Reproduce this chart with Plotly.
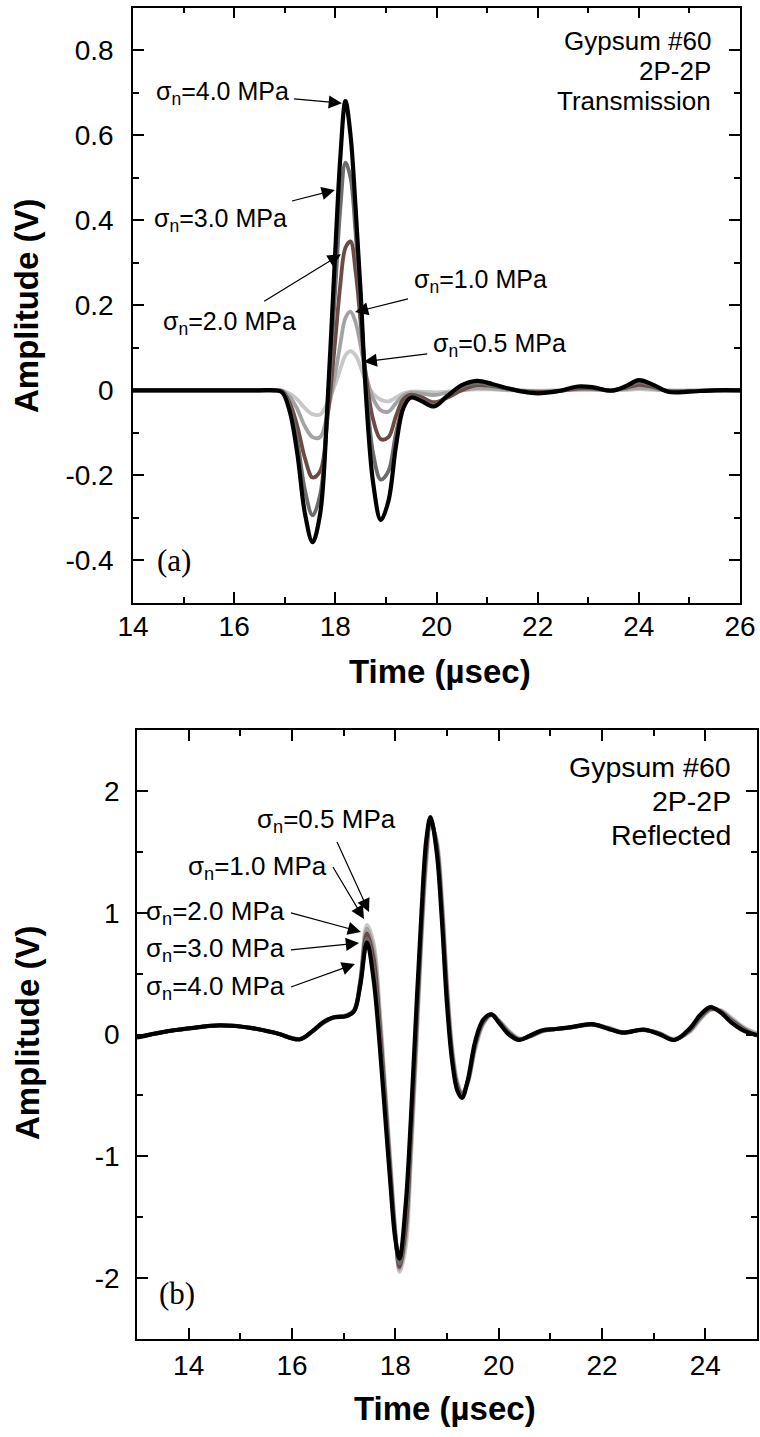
import plotly.graph_objects as go

# ---------------- data: (a) Transmission ----------------
T_TOP = [14.0, 14.5, 15.0, 15.5, 16.0, 16.5, 16.8, 16.95, 17.1, 17.25, 17.4, 17.55, 17.7, 17.85,
         18.0, 18.1, 18.2, 18.3, 18.4, 18.5, 18.6, 18.75, 18.9, 19.05, 19.2, 19.35, 19.5, 19.7,
         19.95, 20.2, 20.5, 20.8, 21.1, 21.4, 21.7, 22.0, 22.4, 22.8, 23.1, 23.45, 23.75, 24.0,
         24.3, 24.6, 25.0, 25.5, 26.0]

TOP_40 = [0, 0, 0, 0, 0, 0, 0, -0.005, -0.05, -0.15, -0.29, -0.357, -0.29, -0.02, 0.33, 0.55, 0.68,
          0.6, 0.43, 0.23, 0.0, -0.22, -0.305, -0.26, -0.13, -0.04, -0.017, -0.025, -0.038, -0.015,
          0.012, 0.022, 0.015, 0.005, -0.003, -0.007, -0.002, 0.009, 0.007, -0.001, 0.01, 0.024,
          0.012, -0.004, -0.003, 0, 0]
TOP_30 = [0, 0, 0, 0, 0, 0, 0, -0.003, -0.04, -0.12, -0.235, -0.294, -0.245, -0.04, 0.24, 0.43, 0.535,
          0.5, 0.37, 0.2, 0.02, -0.15, -0.21, -0.19, -0.1, -0.035, -0.015, -0.022, -0.034, -0.014,
          0.009, 0.017, 0.012, 0.004, -0.002, -0.006, -0.002, 0.007, 0.006, 0.0, 0.008, 0.019,
          0.01, -0.003, -0.002, 0, 0]
TOP_20 = [0, 0, 0, 0, 0, 0, 0, -0.002, -0.03, -0.085, -0.16, -0.205, -0.19, -0.06, 0.12, 0.25, 0.335,
          0.35, 0.28, 0.16, 0.04, -0.07, -0.115, -0.11, -0.06, -0.02, -0.01, -0.016, -0.028, -0.018,
          0.0, 0.012, 0.01, 0.004, -0.002, -0.004, -0.002, 0.004, 0.004, 0.0, 0.006, 0.013,
          0.007, -0.002, -0.002, 0, 0]
TOP_10 = [0, 0, 0, 0, 0, 0, 0, -0.001, -0.015, -0.045, -0.085, -0.11, -0.11, -0.05, 0.04, 0.11, 0.17,
          0.185, 0.16, 0.105, 0.04, -0.02, -0.047, -0.05, -0.03, -0.012, -0.005, -0.007, -0.011, -0.006,
          0.0, 0.005, 0.004, 0.001, -0.001, -0.002, -0.001, 0.002, 0.002, 0.0, 0.003, 0.006,
          0.003, -0.001, -0.001, 0, 0]
TOP_05 = [0, 0, 0, 0, 0, 0, 0, -0.001, -0.008, -0.022, -0.042, -0.056, -0.057, -0.028, 0.015, 0.05, 0.082,
          0.092, 0.082, 0.055, 0.022, -0.008, -0.022, -0.026, -0.017, -0.007, -0.003, -0.003, -0.005, -0.003,
          0.0, 0.002, 0.002, 0.0, 0.0, -0.001, 0.0, 0.001, 0.001, 0.0, 0.001, 0.003,
          0.001, 0.0, 0.0, 0, 0]

# ---------------- data: (b) Reflected ----------------
T_BOT = [13.0, 13.5, 14.0, 14.6, 15.2, 15.7, 16.15, 16.4, 16.6, 16.8, 17.05, 17.2, 17.32, 17.45,
         17.58, 17.7, 17.8, 17.9, 18.0, 18.08, 18.2, 18.3, 18.4, 18.5, 18.6, 18.68, 18.8, 18.9,
         19.0, 19.1, 19.2, 19.29, 19.4, 19.55, 19.7, 19.86, 20.0, 20.2, 20.4, 20.6, 20.85, 21.1,
         21.4, 21.8, 22.1, 22.4, 22.8, 23.1, 23.4, 23.7, 23.9, 24.1, 24.3, 24.5, 24.75, 25.0]

BOT_40 = [-0.025, 0.02, 0.05, 0.075, 0.055, 0.01, -0.04, 0.03, 0.1, 0.14, 0.15, 0.19, 0.4, 0.757,
          0.45, -0.1, -0.65, -1.2, -1.68, -1.84, -1.4, -0.7, 0.15, 0.95, 1.6, 1.785, 1.5, 0.95,
          0.25, -0.22, -0.46, -0.52, -0.38, -0.05, 0.12, 0.165, 0.1, 0.0, -0.045, -0.01, 0.035, 0.045,
          0.06, 0.085, 0.05, 0.015, 0.04, 0.005, -0.045, 0.05, 0.16, 0.225, 0.18, 0.1, 0.03, -0.005]
BOT_30 = [-0.024, 0.02, 0.05, 0.075, 0.055, 0.01, -0.039, 0.029, 0.098, 0.14, 0.152, 0.19, 0.41, 0.79,
          0.54, 0.0, -0.57, -1.15, -1.66, -1.88, -1.5, -0.8, 0.05, 0.88, 1.55, 1.775, 1.53, 1.0,
          0.3, -0.19, -0.44, -0.5, -0.385, -0.065, 0.11, 0.165, 0.105, 0.008, -0.043, -0.012, 0.033, 0.045,
          0.059, 0.084, 0.052, 0.016, 0.039, 0.008, -0.045, 0.043, 0.15, 0.218, 0.185, 0.11, 0.038, -0.008]
BOT_20 = [-0.022, 0.02, 0.05, 0.075, 0.055, 0.011, -0.038, 0.028, 0.096, 0.14, 0.154, 0.195, 0.43, 0.83,
          0.63, 0.07, -0.5, -1.1, -1.64, -1.91, -1.6, -0.88, -0.03, 0.82, 1.5, 1.76, 1.56, 1.05,
          0.35, -0.16, -0.42, -0.49, -0.39, -0.08, 0.1, 0.163, 0.11, 0.015, -0.04, -0.015, 0.03, 0.045,
          0.058, 0.083, 0.055, 0.017, 0.038, 0.01, -0.045, 0.035, 0.14, 0.21, 0.19, 0.12, 0.045, -0.01]
BOT_10 = [-0.02, 0.02, 0.05, 0.075, 0.055, 0.012, -0.036, 0.026, 0.093, 0.14, 0.157, 0.2, 0.44, 0.87,
          0.7, 0.14, -0.45, -1.05, -1.62, -1.93, -1.68, -0.97, -0.12, 0.76, 1.45, 1.74, 1.58, 1.1,
          0.4, -0.13, -0.4, -0.48, -0.4, -0.1, 0.09, 0.16, 0.115, 0.025, -0.035, -0.018, 0.028, 0.045,
          0.057, 0.082, 0.057, 0.018, 0.037, 0.012, -0.038, 0.028, 0.13, 0.205, 0.195, 0.13, 0.05, 0.005]
BOT_05 = [-0.02, 0.02, 0.05, 0.075, 0.055, 0.012, -0.035, 0.025, 0.09, 0.14, 0.16, 0.2, 0.45, 0.9,
          0.75, 0.2, -0.4, -1.0, -1.6, -1.95, -1.75, -1.05, -0.2, 0.7, 1.4, 1.72, 1.6, 1.15,
          0.45, -0.1, -0.38, -0.47, -0.4, -0.12, 0.08, 0.16, 0.12, 0.03, -0.03, -0.02, 0.025, 0.045,
          0.055, 0.08, 0.06, 0.02, 0.035, 0.015, -0.035, 0.02, 0.12, 0.2, 0.2, 0.14, 0.06, 0.01]

STRESS_LABELS = ["0.5", "1.0", "2.0", "3.0", "4.0"]
COLORS = ["#c8c8c8", "#a3a3a3", "#6c4b44", "#6c6c6c", "#000000"]
WIDTHS = [3.8, 3.8, 3.8, 3.8, 4.2]

TOP_SERIES = [TOP_05, TOP_10, TOP_20, TOP_30, TOP_40]
BOT_SERIES = [BOT_05, BOT_10, BOT_20, BOT_30, BOT_40]

Y_TOP_TICKS = [-0.4, -0.2, 0, 0.2, 0.4, 0.6, 0.8]
Y_TOP_TEXT = ["-0.4", "-0.2", "0", "0.2", "0.4", "0.6", "0.8"]
Y_BOT_TICKS = [-2, -1, 0, 1, 2]
Y_BOT_TEXT = ["-2", "-1", "0", "1", "2"]

for s in TOP_SERIES:
    assert len(s) == len(T_TOP)
for s in BOT_SERIES:
    assert len(s) == len(T_BOT)

W, H = 760, 1437
SANS = "Liberation Sans, Arial, Helvetica, sans-serif"
SERIF = "Liberation Serif, Times New Roman, serif"

fig = go.Figure()
for lab, col, wd, ys in zip(STRESS_LABELS, COLORS, WIDTHS, TOP_SERIES):
    fig.add_trace(go.Scatter(x=T_TOP, y=ys, mode="lines", name=lab + " MPa",
                             line=dict(color=col, width=wd, shape="spline", smoothing=1.0),
                             xaxis="x", yaxis="y", showlegend=False))
for lab, col, wd, ys in zip(STRESS_LABELS, COLORS, WIDTHS, BOT_SERIES):
    fig.add_trace(go.Scatter(x=T_BOT, y=ys, mode="lines", name=lab + " MPa",
                             line=dict(color=col, width=wd, shape="spline", smoothing=1.0),
                             xaxis="x2", yaxis="y2", showlegend=False))


def px_x(p):
    return p / W


def px_y(p):
    return 1 - p / H


axis_common = dict(showgrid=False, zeroline=False, showline=True, linecolor="black", linewidth=1.5,
                   mirror="allticks", ticks="inside", ticklen=11, tickwidth=1.5, tickcolor="black",
                   automargin=False)

fig.update_layout(
    width=W, height=H, margin=dict(l=0, r=0, t=0, b=0, pad=0, autoexpand=False),
    paper_bgcolor="white", plot_bgcolor="white", showlegend=False,
    xaxis=dict(domain=[px_x(133), px_x(740)], range=[14, 26], dtick=2, tick0=14, anchor="y",
               tickfont=dict(family=SANS, size=28, color="black"), ticklabelstandoff=-2,
               minor=dict(dtick=1, tick0=14, ticks="inside", ticklen=6, tickwidth=1.5,
                          tickcolor="black", showgrid=False),
               **axis_common),
    yaxis=dict(domain=[px_y(603), px_y(7.5)], range=[-0.5, 0.9], tickmode="array",
               tickvals=Y_TOP_TICKS, ticktext=Y_TOP_TEXT, anchor="x",
               tickfont=dict(family=SANS, size=28, color="black"), ticklabelstandoff=12,
               minor=dict(dtick=0.1, tick0=0, ticks="inside", ticklen=6, tickwidth=1.5,
                          tickcolor="black", showgrid=False),
               **axis_common),
    xaxis2=dict(domain=[px_x(137), px_x(757)], range=[13, 25], dtick=2, tick0=14, anchor="y2",
                tickfont=dict(family=SANS, size=28, color="black"), ticklabelstandoff=1,
                minor=dict(dtick=1, tick0=13, ticks="inside", ticklen=6, tickwidth=1.5,
                           tickcolor="black", showgrid=False),
                **axis_common),
    yaxis2=dict(domain=[px_y(1339), px_y(730)], range=[-2.5, 2.5], tickmode="array",
                tickvals=Y_BOT_TICKS, ticktext=Y_BOT_TEXT, anchor="x2",
                tickfont=dict(family=SANS, size=28, color="black"), ticklabelstandoff=10,
                minor=dict(dtick=0.5, tick0=0, ticks="inside", ticklen=6, tickwidth=1.5,
                           tickcolor="black", showgrid=False),
                **axis_common),
)

ann = []
# axis titles
title_font = dict(family=SANS, size=33, color="black")
ann.append(dict(text="<b>Time (µsec)</b>", xref="paper", yref="paper", x=px_x(440), y=px_y(671),
                xanchor="center", yanchor="middle", showarrow=False, font=title_font))
ann.append(dict(text="<b>Time (µsec)</b>", xref="paper", yref="paper", x=px_x(445), y=px_y(1408),
                xanchor="center", yanchor="middle", showarrow=False, font=title_font))
ann.append(dict(text="<b>Amplitude (V)</b>", xref="paper", yref="paper", x=px_x(27), y=px_y(306),
                xanchor="center", yanchor="middle", showarrow=False, font=title_font, textangle=-90))
ann.append(dict(text="<b>Amplitude (V)</b>", xref="paper", yref="paper", x=px_x(27), y=px_y(1033),
                xanchor="center", yanchor="middle", showarrow=False, font=title_font, textangle=-90))

# panel descriptors
for txt, yy in [("Gypsum #60", 0.821), ("2P-2P", 0.7506), ("Transmission", 0.680)]:
    ann.append(dict(text=txt, xref="x", yref="y", x=25.47, y=yy, xanchor="right", yanchor="middle",
                    showarrow=False, font=dict(family=SANS, size=26, color="black")))
for txt, yy in [("Gypsum #60", 2.196), ("2P-2P", 1.917), ("Reflected", 1.638)]:
    ann.append(dict(text=txt, xref="x2", yref="y2", x=24.535, y=yy, xanchor="right", yanchor="middle",
                    showarrow=False, font=dict(family=SANS, size=28.5, color="black")))

ann.append(dict(text="(a)", xref="x", yref="y", x=14.81, y=-0.401, xanchor="center", yanchor="middle",
                showarrow=False, font=dict(family=SERIF, size=31, color="black")))
ann.append(dict(text="(b)", xref="x2", yref="y2", x=13.774, y=-2.13, xanchor="center", yanchor="middle",
                showarrow=False, font=dict(family=SERIF, size=31, color="black")))

arrow_style = dict(showarrow=True, arrowhead=2, arrowsize=2.2, arrowwidth=1.2, arrowcolor="black",
                   standoff=0, borderpad=5)

# top labels with arrows: (stress, text anchor x, text anchor y, xanchor, tip x, tip y)
sig_font = dict(family=SANS, size=25, color="black")
top_lbl = [("4.0", 15.76, 0.700, "center", 18.13, 0.675),
           ("3.0", 15.72, 0.4015, "center", 17.99, 0.471),
           ("2.0", 15.90, 0.159, "center", 18.11, 0.32),
           ("1.0", 20.86, 0.257, "center", 18.39, 0.184),
           ("0.5", 21.24, 0.1065, "center", 18.56, 0.067)]
for s, ax_, ay_, xa, tx, ty in top_lbl:
    ann.append(dict(text="σ<sub>n</sub>=%s MPa" % s, xref="x", yref="y", axref="x", ayref="y",
                    x=tx, y=ty, ax=ax_, ay=ay_, xanchor=xa, yanchor="middle", font=sig_font,
                    **arrow_style))

sig_font2 = dict(family=SANS, size=26, color="black")
bot_lbl = [("0.5", 16.677, 1.761, "center", 17.49, 1.006),
           ("1.0", 16.793, 1.375, "right", 17.393, 0.948),
           ("2.0", 15.98, 0.998, "right", 17.335, 0.842),
           ("3.0", 15.98, 0.694, "right", 17.297, 0.751),
           ("4.0", 15.98, 0.39, "right", 17.219, 0.579)]
for s, ax_, ay_, xa, tx, ty in bot_lbl:
    ann.append(dict(text="σ<sub>n</sub>=%s MPa" % s, xref="x2", yref="y2", axref="x2", ayref="y2",
                    x=tx, y=ty, ax=ax_, ay=ay_, xanchor=xa, yanchor="middle", font=sig_font2,
                    **arrow_style))

fig.update_layout(annotations=ann)
fig.write_html("out.html")
